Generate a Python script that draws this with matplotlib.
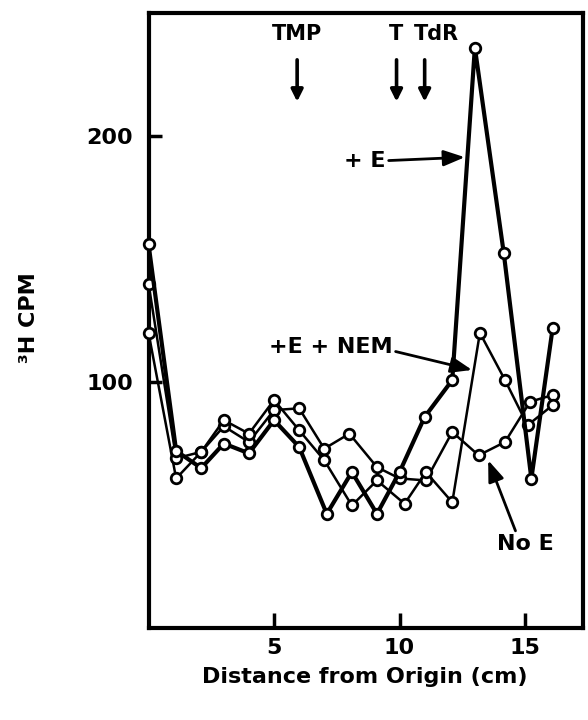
import matplotlib
matplotlib.use("Agg")
import matplotlib.pyplot as plt

plt.rcParams['font.family'] = ['DejaVu Sans']
plt.rcParams['font.weight'] = 'bold'

# ---- data ----
x_e = [0, 1.1, 2.1, 3.0, 4.0, 5.0, 6.0, 7.1, 8.1, 9.1, 10.0, 11.0, 12.1, 13.0, 14.15, 15.25, 16.1]
y_e = [156, 72, 65, 75, 71, 84.5, 73.6, 46.4, 63.4, 46.4, 63.4, 85.8, 100.8, 236, 152.5, 60.7, 122]

x_nem = [0, 1.1, 2.1, 3.0, 4.0, 5.0, 6.0, 7.0, 8.1, 9.1, 10.2, 11.05, 12.1, 13.2, 14.2, 15.1, 16.1]
y_nem = [140, 69, 71.6, 84.5, 79, 92.7, 80.4, 68.2, 49.8, 60, 50.5, 63.4, 51.1, 120, 100.8, 82.4, 90.6]

x_noe = [0, 1.1, 2.1, 3.0, 4.0, 5.0, 6.0, 7.0, 8.0, 9.1, 10.0, 11.05, 12.1, 13.15, 14.2, 15.2, 16.1]
y_noe = [120, 60.8, 71.6, 82, 75.6, 88.6, 89.3, 72.9, 79, 65.4, 60.8, 60, 79.7, 70.2, 75.6, 92, 94.7]

x_ticks = [5, 10, 15]
x_ticklabels = ['5', '10', '15']
y_ticks = [100, 200]
y_ticklabels = ['100', '200']

markers = [("TMP", 5.92), ("T", 9.88), ("TdR", 11.0)]

fig = plt.figure(figsize=(5.88, 7.2), dpi=100)
ax = fig.add_axes([0.2526, 0.1278, 0.739, 0.854])
ax.set_xlim(0, 17.31)
ax.set_ylim(0, 250)

mk = dict(marker='o', markersize=7.6, markerfacecolor='white',
          markeredgecolor='black', markeredgewidth=2.0, clip_on=False, zorder=5)

ax.plot(x_noe, y_noe, color='black', lw=1.8, **mk)
ax.plot(x_nem, y_nem, color='black', lw=1.8, **mk)
ax.plot(x_e, y_e, color='black', lw=3.0, **mk)

for s in ax.spines.values():
    s.set_linewidth(3.0)
    s.set_zorder(4)

ax.set_xticks(x_ticks)
ax.set_xticklabels(x_ticklabels)
ax.set_yticks(y_ticks)
ax.set_yticklabels(y_ticklabels)
ax.tick_params(axis='x', direction='in', length=11, width=2.5, pad=7, labelsize=16)
ax.tick_params(axis='y', direction='in', length=9, width=2.5, pad=11, labelsize=16)
for lab in ax.get_xticklabels() + ax.get_yticklabels():
    lab.set_fontweight('bold')

fig.text(365 / 588, 1 - 677 / 720, "Distance from Origin (cm)", ha='center', va='center',
         fontsize=16, fontweight='bold')
fig.text(29 / 588, 1 - 318 / 720, "³H CPM", ha='center', va='center', rotation=90,
         fontsize=16, fontweight='bold')

# top marker arrows
arrow_kw = dict(arrowstyle='-|>,head_length=0.7,head_width=0.35', lw=2.6, color='black',
                shrinkA=0, shrinkB=0)
for name, xv in markers:
    ax.annotate('', xy=(xv, 214), xytext=(xv, 231), arrowprops=arrow_kw)
ax.text(5.92, 241.5, "TMP", ha='center', va='center', fontsize=15, fontweight='bold')
ax.text(9.86, 241.5, "T", ha='center', va='center', fontsize=15, fontweight='bold')
ax.text(11.48, 241.5, "TdR", ha='center', va='center', fontsize=15, fontweight='bold')

lab_kw = dict(arrowstyle='-|>,head_length=0.8,head_width=0.3', lw=2.0, color='black',
              shrinkA=0, shrinkB=0)
ax.annotate("+ E", xy=(12.6, 191.4), xytext=(8.63, 190), ha='center', va='center',
            fontsize=16, fontweight='bold',
            arrowprops=dict(lab_kw, relpos=(1.0, 0.5)))
ax.annotate("+E + NEM", xy=(12.89, 104.9), xytext=(7.27, 114.3), ha='center', va='center',
            fontsize=16, fontweight='bold',
            arrowprops=dict(lab_kw, relpos=(1.0, 0.3)))
ax.annotate("No E", xy=(13.53, 68.2), xytext=(15.0, 34.3), ha='center', va='center',
            fontsize=16, fontweight='bold',
            arrowprops=dict(lab_kw, relpos=(0.35, 1.0)))

fig.savefig("out.png", dpi=100)
